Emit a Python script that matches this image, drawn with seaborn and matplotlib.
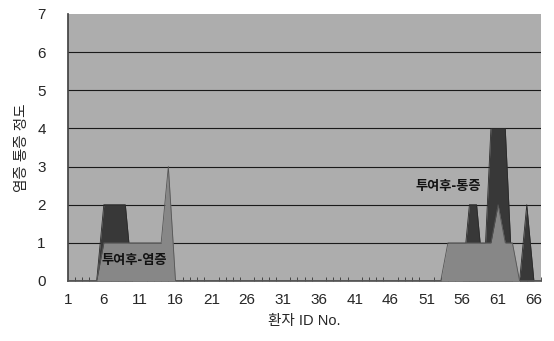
import numpy as np
import pandas as pd
import seaborn as sns
import matplotlib.pyplot as plt

# patient IDs 1..67 (last one unlabeled)
patient_ids = list(range(1, 68))
tick_labels = [1, 6, 11, 16, 21, 26, 31, 36, 41, 46, 51, 56, 61, 66]

# pain scores (dark series) by patient id, 0 elsewhere
pain_points = {6: 2, 7: 2, 8: 2, 9: 2,
               57: 2, 58: 2,
               60: 4, 61: 4, 62: 4,
               65: 2}
# inflammation scores (lighter series)
infl_points = {6: 1, 7: 1, 8: 1, 9: 1, 10: 1, 11: 1, 12: 1, 13: 1, 14: 1, 15: 3,
               54: 1, 55: 1, 56: 1, 57: 1, 58: 1, 59: 1, 60: 1, 61: 2, 62: 1, 63: 1}

pain = [pain_points.get(i, 0) for i in patient_ids]
infl = [infl_points.get(i, 0) for i in patient_ids]

df = pd.DataFrame({'id': patient_ids, '투여후-통증': pain, '투여후-염증': infl})

sns.set_theme(style='white')
plt.rcParams['font.family'] = ['Liberation Sans', 'Noto Sans CJK KR', 'DejaVu Sans']

fig = plt.figure(figsize=(5.54, 3.41), dpi=100)
ax = fig.add_axes([0.1227, 0.176, 0.854, 0.783])
ax.set_facecolor('#adadad')

# dark series in back, lighter one in front
ax.fill_between(df['id'], df['투여후-통증'], color='#383838', lw=0, zorder=2)
sns.lineplot(data=df, x='id', y='투여후-통증', color='#2a2a2a', lw=0.6, ax=ax, zorder=2)
ax.fill_between(df['id'], df['투여후-염증'], color='#878787', lw=0, zorder=3)
sns.lineplot(data=df, x='id', y='투여후-염증', color='#555555', lw=0.6, ax=ax, zorder=3)

for yv in range(1, 7):
    ax.axhline(yv, color='#1a1a1a', lw=0.8, zorder=1)

lab_font = ['Noto Sans CJK KR', 'DejaVu Sans']
ax.text(10.3, 0.55, '투여후-염증', fontsize=9.5, fontweight='bold', family=lab_font,
        ha='center', va='center', color='#111111', zorder=5)
ax.text(54.0, 2.5, '투여후-통증', fontsize=9.5, fontweight='bold', family=lab_font,
        ha='center', va='center', color='#111111', zorder=5)

ax.set_xlim(1, 67)
ax.set_ylim(0, 7)
ax.set_xticks(tick_labels)
ax.set_xticklabels([str(t) for t in tick_labels])
ax.set_xticks(patient_ids, minor=True)
ax.set_yticks(range(0, 8))
ax.tick_params(axis='x', which='major', length=0, pad=9, labelsize=11)
ax.tick_params(axis='x', which='minor', direction='in', length=3, width=0.6, color='#333333', bottom=True)
ax.tick_params(axis='y', length=0, pad=16, labelsize=11)

ax.set_xlabel('환자 ID No.', fontsize=10.5, labelpad=5)
ax.set_ylabel('염증 통증 정도', fontsize=10.5, labelpad=6)

for s in ['top', 'right']:
    ax.spines[s].set_visible(False)
ax.spines['left'].set_color('#444444')
ax.spines['bottom'].set_color('#555555')

fig.savefig('out.png', dpi=100)
